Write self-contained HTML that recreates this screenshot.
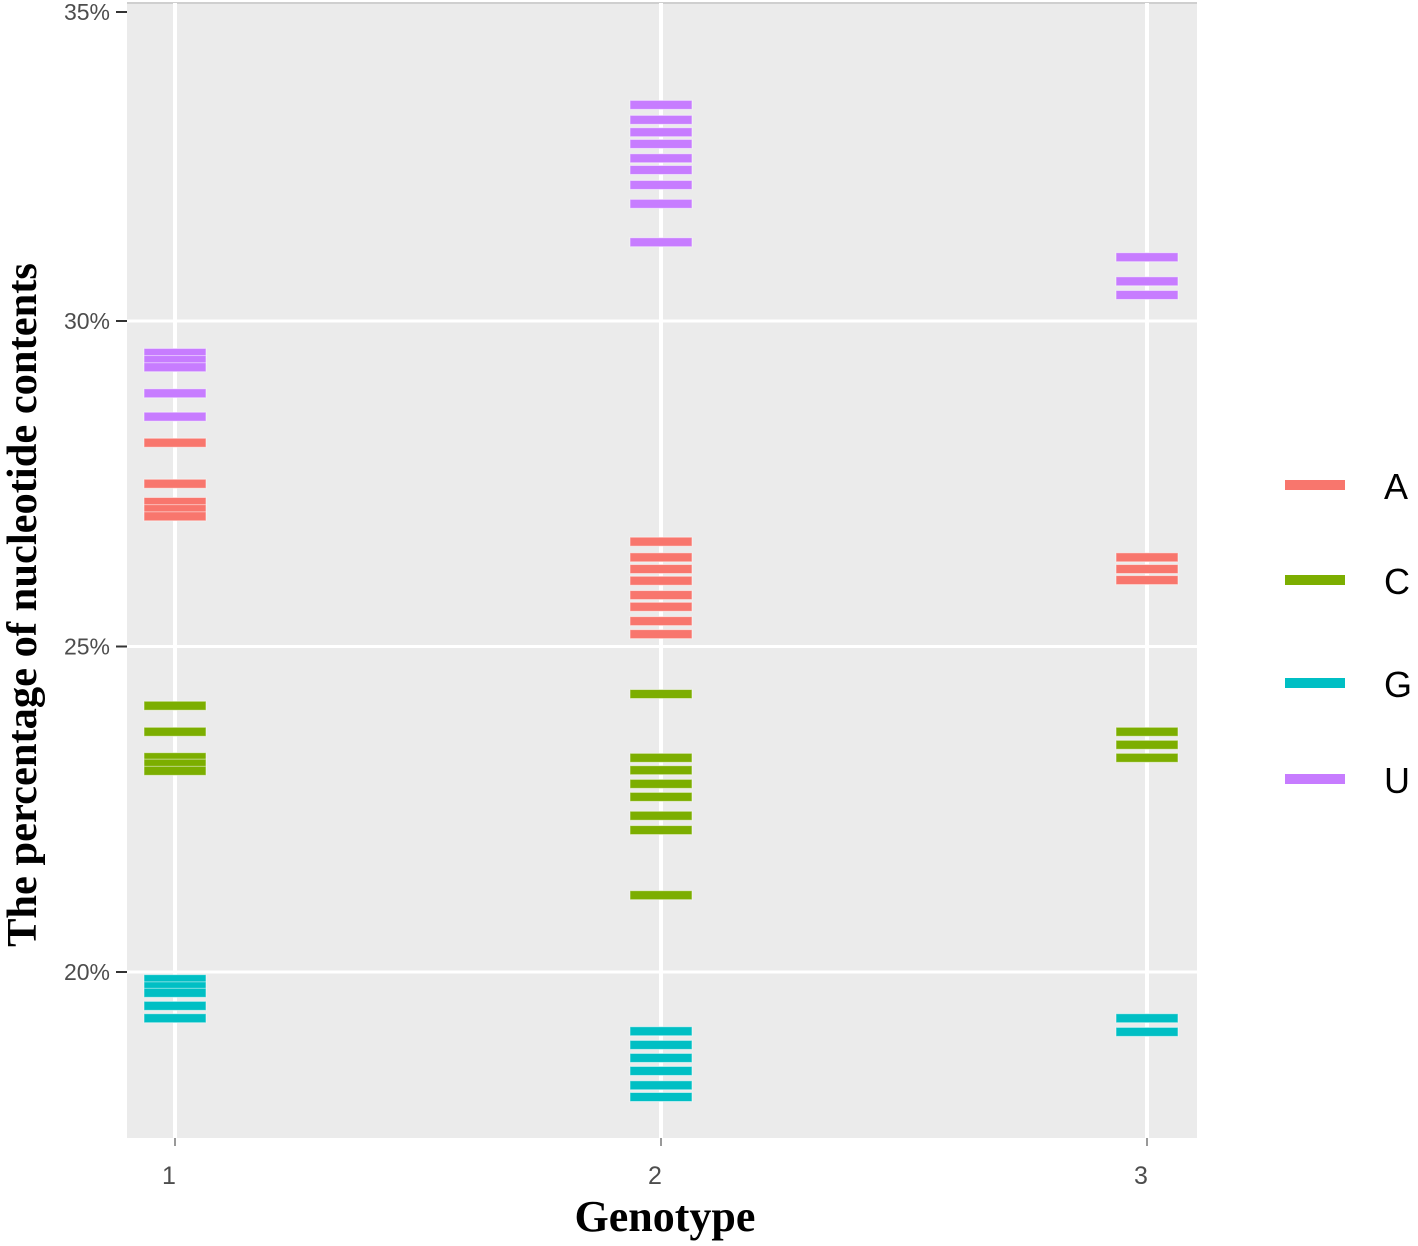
<!DOCTYPE html>
<html><head><meta charset="utf-8"><style>
body{margin:0;background:#fff;}
svg{display:block;}
</style></head><body>
<svg id="chart" width="1418" height="1246" xmlns="http://www.w3.org/2000/svg">
<rect x="127" y="3" width="1070" height="1135" fill="#ebebeb"/>
<line x1="127" y1="3" x2="1197" y2="3" stroke="#cfcfcf" stroke-width="2"/>
<g id="grid"></g>
<g id="marks"></g>
<g id="axes"></g>
<text x="665" y="1231" text-anchor="middle" font-family="Liberation Serif, serif" font-weight="bold" font-size="44" fill="#000">Genotype</text>
<text transform="translate(36,605) rotate(-90)" text-anchor="middle" font-family="Liberation Serif, serif" font-weight="bold" font-size="42.5" fill="#000">The percentage of nucleotide contents</text>
<g id="legend"></g>
</svg>
<script>
const categories = [1, 2, 3];
const bases = ["A", "C", "G", "U"];
const colors = ["#f8766d", "#7cae00", "#00bfc4", "#c77cff"];
const yTicks = [20, 25, 30, 35];
const yTickLabels = ["20%", "25%", "30%", "35%"];
const valuesA = [[28.13, 27.50, 27.22, 27.11, 27.00], [26.61, 26.37, 26.19, 26.01, 25.79, 25.61, 25.39, 25.19], [26.37, 26.19, 26.02]];
const valuesC = [[24.09, 23.69, 23.30, 23.20, 23.09], [24.27, 23.29, 23.10, 22.89, 22.69, 22.40, 22.18, 21.18], [23.69, 23.49, 23.29]];
const valuesG = [[19.89, 19.78, 19.68, 19.48, 19.29], [19.09, 18.88, 18.68, 18.48, 18.26, 18.08], [19.29, 19.08]];
const valuesU = [[29.51, 29.40, 29.29, 28.89, 28.53], [33.32, 33.09, 32.90, 32.72, 32.50, 32.32, 32.09, 31.80, 31.21], [30.98, 30.61, 30.40]];
const series = [valuesA, valuesC, valuesG, valuesU];

const NS = "http://www.w3.org/2000/svg";
function y(v){ return 972 + (20 - v) * 65.1; }
function x(c){ return 175 + (c - 1) * 486; }
function mk(tag, attrs, parent){ const e = document.createElementNS(NS, tag); for (const k in attrs) e.setAttribute(k, attrs[k]); parent.appendChild(e); return e; }
const grid = document.getElementById("grid"), marks = document.getElementById("marks"), axes = document.getElementById("axes"), legend = document.getElementById("legend");

yTicks.forEach((t, i) => {
  const yy = Math.max(12, y(t));
  if (y(t) > 10) {
    const l = mk("line", {x1:127, x2:1197, y1:yy, y2:yy, stroke:"#fff", "stroke-width":3}, grid);
    
    
  }
  const tk = mk("line", {x1:116, x2:127, y1:yy, y2:yy, stroke:"#333", "stroke-width":2}, axes);
  
  
  const tx = mk("text", {x:110, y:yy + 8, "text-anchor":"end", "font-family":"Liberation Sans, sans-serif", "font-size":23, fill:"#4d4d4d"}, axes);
  tx.textContent = yTickLabels[i];
  
  
});
categories.forEach(c => {
  const l = mk("line", {x1:x(c), x2:x(c), y1:3, y2:1138, stroke:"#fff", "stroke-width":4}, grid);
  
  
  const tk = mk("line", {x1:x(c), x2:x(c), y1:1138, y2:1146, stroke:"#999", "stroke-width":2}, axes);
  
  
  const tx = mk("text", {x:x(c) - 6, y:1184, "text-anchor":"middle", "font-family":"Liberation Sans, sans-serif", "font-size":25, fill:"#4d4d4d"}, axes);
  tx.textContent = String(c);
  
  
});
series.forEach((s, si) => {
  s.forEach((vals, ci) => {
    vals.forEach(v => {
      const r = mk("rect", {x:x(categories[ci]) - 31, y:y(v) - 4.5, width:62, height:9, fill:colors[si], stroke:"#fff", "stroke-opacity":0.5, "stroke-width":1}, marks);
      
      
    });
  });
});
const legY = [485, 580, 683, 779];
bases.forEach((b, i) => {
  const r = mk("rect", {x:1285, y:legY[i] - 5, width:60, height:10, fill:colors[i]}, legend);
  
  
  const t = mk("text", {x:1384, y:legY[i] + 14, "font-family":"Liberation Sans, sans-serif", "font-size":36, fill:"#000"}, legend);
  t.textContent = b;
  
  
});
</script>
</body></html>
